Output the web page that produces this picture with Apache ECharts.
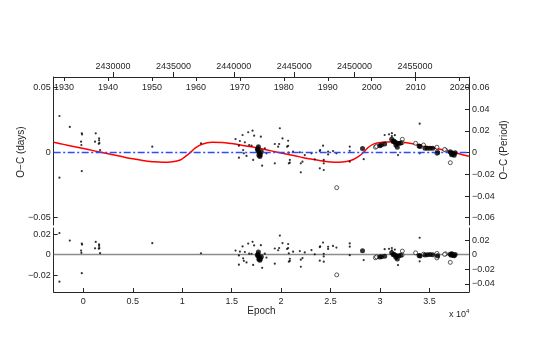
<!DOCTYPE html>
<html>
<head>
<meta charset="utf-8">
<script src="https://cdn.jsdelivr.net/npm/echarts@6/dist/echarts.min.js"></script>
<style>
  html, body { margin: 0; padding: 0; background: #fff; }
  #main { width: 536px; height: 344px; }
</style>
</head>
<body>
<div id="main"></div>
<script>
// small points (epoch, O-C in days, residual in days)
const dotEpoch = [-2420, -2420, -1370, -160, -130, -230, -200, -160, 1250, 1180, 1590, 1590, 1620, 1560, 1690, 6970, 11890,
  15390, 15730, 15730, 15830, 16100, 16160, 16230, 16330, 16500, 16670, 16770, 17010, 17110, 17170, 17270, 17950, 18080, 18350, 18520,
  19360, 19360, 19700, 19800, 19870, 20140, 20600, 20710, 20710, 20780, 20780, 20880, 20880, 21210, 21890, 21990, 21990, 22160, 22390,
  23070, 23400, 23910, 23910, 23950, 24240, 24310, 24310, 24310, 24750, 24750, 25250, 25590, 26940, 26940, 26940, 28350,
  30470, 30910, 31200, 31200, 31500, 31820, 34010, 34010]
const dotOC = [0.0282, -0.0192, 0.0198, 0.0149, 0.0140, 0.0085, 0.0059, -0.0141, 0.0149, 0.0085, 0.0110, 0.0095, 0.0075, 0.0068, 0.0020, 0.0046, 0.0072,
  0.0105, 0.0054, -0.0038, 0.0090, 0.0136, 0.0020, -0.0005, 0.0080, -0.0025, 0.0157, 0.0059, 0.0054, 0.0169, -0.0056, 0.0131, 0.0123, -0.0100, 0.0034, -0.0005,
  0.0067, -0.0082, 0.0046, 0.0067, 0.0188, 0.0110, 0.0046, 0.0092, 0.0052, 0.0000, -0.0082, -0.0056, -0.0077, 0.0008, 0.0003, -0.0151, -0.0082, -0.0069, -0.0018,
  -0.0005, -0.0051, 0.0013, -0.0120, 0.0020, 0.0054, -0.0056, -0.0082, -0.0133, -0.0013, 0.0008, 0.0013, -0.0005, 0.0046, 0.0015, -0.0069, -0.0050,
  0.0136, 0.0141, 0.0150, 0.0128, 0.0135, -0.0018, -0.0005, 0.0223]
const dotRes = [0.0211, -0.0263, 0.0137, 0.0108, 0.0098, 0.0040, 0.0018, -0.0180, 0.0124, 0.0062, 0.0100, 0.0085, 0.0065, 0.0058, 0.0015, 0.0112, 0.0014,
  0.0040, -0.0007, -0.0098, 0.0030, 0.0080, -0.0036, -0.0060, 0.0026, -0.0076, 0.0108, 0.0010, 0.0009, 0.0125, -0.0100, 0.0090, 0.0093, -0.0128, 0.0010, -0.0028,
  0.0060, -0.0088, 0.0043, 0.0065, 0.0186, 0.0113, 0.0056, 0.0104, 0.0064, 0.0013, -0.0068, -0.0040, -0.0061, 0.0029, 0.0035, -0.0118, -0.0049, -0.0033, 0.0022,
  0.0045, 0.0003, 0.0074, -0.0059, 0.0080, 0.0118, 0.0009, -0.0017, -0.0068, 0.0056, 0.0077, 0.0085, 0.0069, 0.0110, 0.0078, -0.0005, -0.0053,
  0.0054, 0.0057, 0.0065, 0.0043, 0.0050, -0.0101, -0.0065, 0.0165]

// large filled points
const bigEpoch = [17600, 17700, 17800, 17900, 17750, 17650, 17850, 18000, 17700,
  28230, 29970, 30140, 30470, 31180, 31350, 31400, 31550, 31700, 31600, 31750, 31900, 32100,
  33950, 34050, 34550, 34790, 35060, 35330, 35830,
  37100, 37200, 37300, 37400, 37250, 37500, 37600]
const bigOC = [0.0025, 0.0012, -0.0003, -0.0015, -0.0020, 0.0030, -0.0030, 0.0008, 0.0045,
  0.0032, 0.0054, 0.0059, 0.0067, 0.0103, 0.0085, 0.0090, 0.0080, 0.0072, 0.0060, 0.0042, 0.0070, 0.0075,
  0.0052, 0.0048, 0.0034, 0.0034, 0.0034, 0.0034, 0.0000,
  0.0008, -0.0005, -0.0003, -0.0010, -0.0015, -0.0020, 0.0000]
const bigRes = [-0.0005, -0.0015, -0.0030, -0.0040, -0.0045, 0.0005, -0.0055, -0.0020, 0.0025,
  0.0038, -0.0022, -0.0020, -0.0015, 0.0018, 0.0000, 0.0005, -0.0005, -0.0012, -0.0025, -0.0043, -0.0012, -0.0006,
  -0.0008, -0.0012, -0.0004, 0.0000, 0.0001, 0.0000, -0.0010,
  0.0005, -0.0005, 0.0003, -0.0005, 0.0008, -0.0010, 0.0002]

// open circles
const openEpoch = [25620, 29530, 29650, 32260, 32230, 33600, 34400, 35760, 35800, 35750, 36630, 36530, 37110]
const openOC = [-0.0269, 0.0042, 0.0048, 0.0103, 0.0077, 0.0072, 0.0059, 0.0042, 0.0008, -0.0005, 0.0020, 0.0025, -0.0077]
const openRes = [-0.0197, -0.0030, -0.0022, 0.0035, -0.0003, 0.0018, 0.0005, 0.0012, -0.0022, -0.0032, 0.0008, 0.0003, -0.0075]

// fitted curve
const curveEpoch = [-3000, -2000, -1000, 0, 1000, 2000, 3000, 4000, 5000, 6000, 7000, 8000, 9000, 9800, 10300, 10800, 11300, 12000, 13000,
  14000, 15000, 16000, 17000, 18000, 19000, 20000, 21000, 22000, 23000, 24000, 25000, 25800, 26600, 27300, 27800, 28300, 28800, 29400,
  30200, 31300, 32000, 33000, 34000, 35000, 36000, 37000, 38000, 39000]
const curveOC = [0.0080, 0.0064, 0.0048, 0.0032, 0.0016, 0.0000, -0.0016, -0.0032, -0.0047, -0.0060, -0.0069, -0.0074, -0.0070, -0.0056, -0.0030, 0.0000, 0.0035, 0.0065, 0.0080,
  0.0079, 0.0070, 0.0058, 0.0045, 0.0030, 0.0014, -0.0002, -0.0018, -0.0034, -0.0049, -0.0062, -0.0071, -0.0074, -0.0068, -0.0052, -0.0030, 0.0000, 0.0040, 0.0068,
  0.0080, 0.0085, 0.0082, 0.0073, 0.0060, 0.0044, 0.0028, 0.0010, -0.0008, -0.0028]

// tick labels
const epochTicks = [0, 5000, 10000, 15000, 20000, 25000, 30000, 35000]
const jdTicks = [2430000, 2435000, 2440000, 2445000, 2450000, 2455000]
const yearTicks = [1930, 1940, 1950, 1960, 1970, 1980, 1990, 2000, 2010, 2020]
const ocDaysTicks = [-0.05, 0, 0.05]
const ocPeriodTicks = [-0.06, -0.04, -0.02, 0, 0.02, 0.04, 0.06]
const resDaysTicks = [-0.02, 0, 0.02]
const resPeriodTicks = [-0.04, -0.02, 0, 0.02]

const zip = (a, b) => a.map((v, i) => [v, b[i]])
const fmt = v => (v < 0 ? '\u2212' : '') + String(+Math.abs(v).toFixed(3))

const FONT = 'Liberation Sans, Arial, Helvetica, sans-serif'
const INK = '#262626'
const lbl = { fontFamily: FONT, fontSize: 9, color: INK }
const line = () => ({ show: true, onZero: false, lineStyle: { color: INK, width: 1 } })

function yAx (grid, pos, min, max, ticks) {
  return {
    type: 'value', gridIndex: grid, position: pos, min: min, max: max,
    axisLine: line(),
    axisTick: { show: true, inside: true, length: 4, customValues: ticks, lineStyle: { color: INK } },
    axisLabel: Object.assign({ customValues: ticks, margin: 3, formatter: fmt }, lbl),
    splitLine: { show: false }
  }
}

// zero reference line drawn as a markLine at y = 0
const zeroLine = (color, type) => ({
  silent: true, symbol: 'none', label: { show: false },
  lineStyle: { color: color, width: 1.3, type: type },
  data: [{ yAxis: 0 }]
})

const box = (top, height) => ({
  left: 53.7, right: 67, top: top, height: height,
  show: false, borderWidth: 0, borderColor: 'transparent'
})

const chart = echarts.init(document.getElementById('main'))

const option = {
  animation: false,
  backgroundColor: '#fff',
  grid: [
    box(77, 148),
    box(228, 64),
    // same box as the upper panel, only carries the calendar-year axis
    box(77, 148)
  ],
  xAxis: [
    {
      type: 'value', gridIndex: 0, position: 'top', min: 2425091, max: 2459470,
      axisLine: line(),
      axisTick: { show: true, inside: false, length: 5, customValues: jdTicks, lineStyle: { color: INK } },
      axisLabel: Object.assign({ customValues: jdTicks, margin: 6, formatter: v => String(v) }, lbl),
      splitLine: { show: false }
    },
    {
      type: 'value', gridIndex: 0, position: 'bottom', min: -3000, max: 39000,
      axisLine: { show: false, onZero: false }, axisTick: { show: false }, axisLabel: { show: false },
      splitLine: { show: false }
    },
    {
      type: 'value', gridIndex: 2, position: 'top', min: 1927.66, max: 2022.12,
      axisLine: { show: false, onZero: false },
      axisTick: { show: true, inside: true, length: 4, customValues: yearTicks, lineStyle: { color: INK } },
      axisLabel: Object.assign({ customValues: yearTicks, inside: true, margin: 6, formatter: v => String(v) }, lbl),
      splitLine: { show: false }
    },
    {
      type: 'value', gridIndex: 1, position: 'bottom', min: -3000, max: 39000,
      axisLine: line(),
      axisTick: { show: true, inside: true, length: 4, customValues: epochTicks, lineStyle: { color: INK } },
      axisLabel: Object.assign({ customValues: epochTicks, margin: 5, formatter: v => String(v / 10000) }, lbl),
      splitLine: { show: false }
    }
  ],
  yAxis: [
    yAx(0, 'left', -0.0556, 0.0582, ocDaysTicks),
    yAx(0, 'right', -0.0667, 0.0698, ocPeriodTicks),
    yAx(1, 'left', -0.0364, 0.026, resDaysTicks),
    yAx(1, 'right', -0.0511, 0.0366, resPeriodTicks),
    { type: 'value', gridIndex: 2, show: false, min: 0, max: 1 }
  ],
  graphic: [
    // the upper panel has no bottom frame in the reference: blank the gap between the panels
    { type: 'rect', z: 100, shape: { x: 54.5, y: 223.8, width: 414, height: 3.8 }, style: { fill: '#fff' }, silent: true },
    { type: 'text', x: 21, y: 152, rotation: Math.PI / 2,
      style: { text: 'O\u2212C (days)', font: '10px ' + FONT, fill: INK, align: 'center', verticalAlign: 'middle' } },
    { type: 'text', x: 504.5, y: 150, rotation: Math.PI / 2,
      style: { text: 'O\u2212C (Period)', font: '10px ' + FONT, fill: INK, align: 'center', verticalAlign: 'middle' } },
    { type: 'text', x: 261.5, y: 311, style: { text: 'Epoch', font: '10px ' + FONT, fill: INK, align: 'center', verticalAlign: 'middle' } },
    { type: 'text', x: 449, y: 315, style: { text: 'x 10', font: '9px ' + FONT, fill: INK, align: 'left', verticalAlign: 'middle' } },
    { type: 'text', x: 466, y: 311, style: { text: '4', font: '6px ' + FONT, fill: INK, align: 'left', verticalAlign: 'middle' } }
  ],
  series: [
    {
      type: 'line', xAxisIndex: 1, yAxisIndex: 0, data: zip(curveEpoch, curveOC),
      smooth: 0.4, symbol: 'none', lineStyle: { color: '#ff0000', width: 1.5 }, z: 3,
      markLine: zeroLine('#2b4cff', [7, 2.5, 2, 2.5])
    },
    {
      type: 'scatter', xAxisIndex: 1, yAxisIndex: 0, data: zip(dotEpoch, dotOC),
      symbol: 'circle', symbolSize: 2.2, itemStyle: { color: '#000' }, z: 4
    },
    {
      type: 'scatter', xAxisIndex: 1, yAxisIndex: 0, data: zip(openEpoch, openOC),
      symbol: 'circle', symbolSize: 4, itemStyle: { color: '#fff', borderColor: '#000', borderWidth: 0.8 }, z: 4
    },
    {
      type: 'scatter', xAxisIndex: 1, yAxisIndex: 0, data: zip(bigEpoch, bigOC),
      symbol: 'circle', symbolSize: 5, itemStyle: { color: '#000' }, z: 5
    },
    {
      type: 'scatter', xAxisIndex: 3, yAxisIndex: 2, data: zip(dotEpoch, dotRes),
      symbol: 'circle', symbolSize: 2.2, itemStyle: { color: '#000' }, z: 4,
      markLine: Object.assign(zeroLine('#8c8c8c', 'solid'), { z: 1 })
    },
    {
      type: 'scatter', xAxisIndex: 3, yAxisIndex: 2, data: zip(openEpoch, openRes),
      symbol: 'circle', symbolSize: 4, itemStyle: { color: '#fff', borderColor: '#000', borderWidth: 0.8 }, z: 4
    },
    {
      type: 'scatter', xAxisIndex: 3, yAxisIndex: 2, data: zip(bigEpoch, bigRes),
      symbol: 'circle', symbolSize: 5, itemStyle: { color: '#000' }, z: 5
    }
  ]
}

chart.setOption(option)
</script>
</body>
</html>
